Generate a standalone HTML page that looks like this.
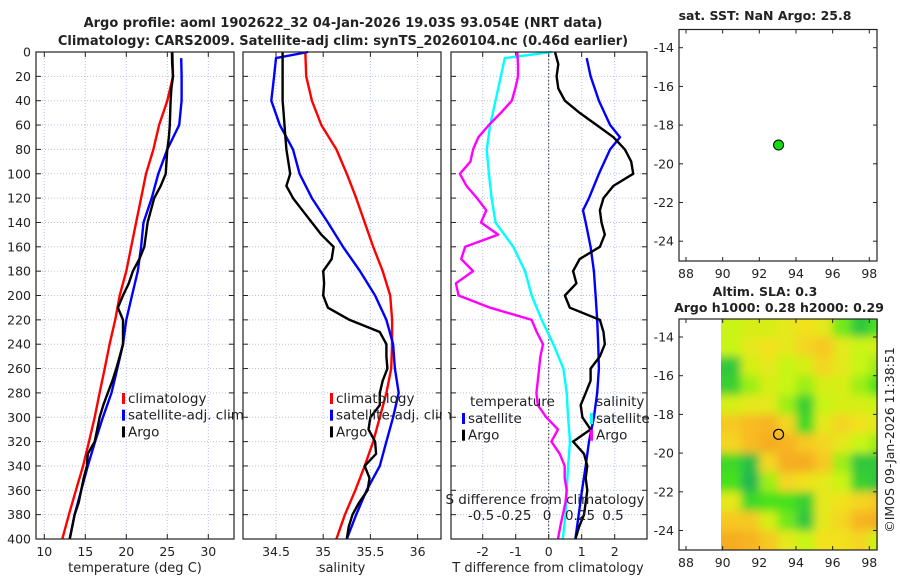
<!DOCTYPE html>
<html><head><meta charset="utf-8"><style>
html,body{margin:0;padding:0;background:#fff;}
svg{display:block;font-family:"DejaVu Sans","Liberation Sans",sans-serif;}
</style></head><body>
<svg id="fig" width="900" height="580" viewBox="0 0 900 580" xmlns="http://www.w3.org/2000/svg">
<defs>
<filter id="blur" x="-5%" y="-5%" width="110%" height="110%"><feGaussianBlur stdDeviation="4.5"/></filter>
<clipPath id="mapclip"><rect x="721" y="319" width="157" height="231"/></clipPath>
</defs>
<g id="root"></g>
</svg>
<script>
// ---------- data ----------
const depthStd = [0,20,40,60,80,100,120,140,160,180,200,220,240,260,280,300,320,340,360,380,400];
const tempClim = [25.64,25.7,25.0,24.0,23.3,22.4,21.8,21.2,20.6,20.0,19.2,18.65,17.96,17.36,16.75,16.15,15.45,14.73,13.85,13.0,12.2];
const depthSat = [5,20,40,60,80,100,120,140,160,180,200,220,240,260,280,300,320,340,360,380,400];
const tempSat = [26.7,26.75,26.75,26.45,25.0,23.9,23.1,22.1,21.8,21.4,20.7,20.0,19.6,18.9,18.2,17.15,16.2,15.3,14.5,13.7,13.1];
const depthArgo = [0,10,20,30,40,50,60,70,80,90,100,110,120,130,140,150,160,170,180,190,200,210,220,230,240,250,260,270,280,290,300,310,320,330,340,350,360,370,380,390,400];
const tempArgo = [25.56,25.6,25.7,25.5,25.4,25.35,25.3,25.2,25.0,24.9,24.8,24.2,23.4,23.0,22.6,22.4,22.2,21.6,20.8,20.3,19.6,18.98,19.6,19.6,19.6,19.2,18.78,18.3,17.75,17.2,16.75,16.45,16.15,15.3,15.2,14.8,14.5,14.2,13.7,13.4,13.1];
const salClim = [34.81,34.82,34.88,34.98,35.14,35.25,35.35,35.44,35.53,35.63,35.71,35.73,35.73,35.72,35.67,35.60,35.53,35.44,35.34,35.23,35.14];
const depthSalSat = [0,5,20,40,60,80,100,120,140,160,180,200,220,240,260,280,300,320,340,360,380,400];
const salSat = [34.84,34.5,34.48,34.45,34.54,34.68,34.75,34.88,35.05,35.21,35.39,35.55,35.67,35.74,35.76,35.80,35.74,35.67,35.60,35.46,35.35,35.25];
const salArgo = [34.57,34.57,34.57,34.57,34.57,34.58,34.59,34.6,34.61,34.63,34.65,34.61,34.68,34.78,34.88,34.98,35.11,35.09,35.0,35.01,35.0,35.05,35.28,35.6,35.67,35.67,35.68,35.63,35.6,35.6,35.5,35.48,35.55,35.56,35.44,35.49,35.47,35.38,35.31,35.27,35.25];
const sDiffSat = [0.035,-0.32,-0.39,-0.43,-0.457,-0.44,-0.42,-0.39,-0.255,-0.167,-0.116,-0.04,0.048,0.124,0.149,0.16,0.174,0.16,0.149,0.14,0.12];
const depthSDS = [0,5,40,60,80,100,120,140,160,180,200,220,240,260,280,300,320,340,360,380,400];
const sDiffArgo = [-0.225,-0.22,-0.22,-0.24,-0.267,-0.35,-0.44,-0.52,-0.56,-0.58,-0.66,-0.61,-0.53,-0.46,-0.50,-0.37,-0.62,-0.65,-0.56,-0.69,-0.67,-0.43,-0.116,-0.078,-0.03,-0.05,-0.06,-0.07,-0.08,-0.07,-0.005,0.083,0.033,0.096,0.134,0.134,0.149,0.14,0.12,0.1,0.083];
const tDiffSat = [1.15,1.27,1.52,1.86,2.16,1.86,1.52,1.22,1.04,1.12,1.27,1.37,1.42,1.47,1.5,1.52,1.47,1.37,1.22,1.12,1.01,0.91,0.81];
const depthTDS = [5,20,40,60,70,80,100,120,130,140,160,180,200,220,240,260,280,300,320,340,360,380,400];
const tDiffArgo = [0.19,0.29,0.24,0.29,0.49,0.94,1.45,1.96,2.31,2.5,2.56,1.96,1.66,1.55,1.6,1.7,1.55,0.94,0.74,0.84,0.49,0.64,1.55,1.66,1.7,1.55,1.27,1.27,1.12,0.97,1.02,1.27,0.74,1.07,1.17,1.12,1.17,1.12,1.07,0.92,0.81];
// map
const argoLon = 93.05, argoLat = -19.03;
const slaLons = [90.5,91.5,92.5,93.5,94.5,95.5,96.5,97.5,98.5];
const slaLats = [-13.5,-14.5,-15.5,-16.5,-17.5,-18.5,-19.5,-20.5,-21.5,-22.5,-23.5,-24.5];
const slaGrid = [
[0.55,0.5,0.5,0.45,0.4,0.45,0.65,0.85,0.7],
[0.55,0.45,0.4,0.45,0.35,0.3,0.45,0.55,0.5],
[0.85,0.5,0.45,0.55,0.5,0.35,0.45,0.55,0.6],
[0.8,0.6,0.5,0.55,0.6,0.5,0.5,0.6,0.7],
[0.5,0.45,0.45,0.6,0.8,0.55,0.5,0.5,0.55],
[0.3,0.25,0.2,0.35,0.75,0.45,0.35,0.4,0.45],
[0.35,0.25,0.15,0.2,0.3,0.35,0.45,0.55,0.6],
[0.75,0.9,0.35,0.15,0.15,0.3,0.6,0.85,0.85],
[0.7,0.95,0.6,0.35,0.4,0.45,0.55,0.8,0.85],
[0.45,0.75,0.7,0.7,0.8,0.45,0.4,0.35,0.3],
[0.3,0.3,0.5,0.65,0.85,0.45,0.35,0.2,0.15],
[0.15,0.2,0.3,0.45,0.55,0.4,0.4,0.35,0.55]];
const depthTicks = [0,20,40,60,80,100,120,140,160,180,200,220,240,260,280,300,320,340,360,380,400];
const tempTicks = [10,15,20,25,30];
const salTicks = [34.5,35,35.5,36];
const tdTicks = [-2,-1,0,1,2];
const sdTicks = [-0.5,-0.25,0,0.25,0.5];
const lonTicks = [88,90,92,94,96,98];
const latTicks = [-14,-16,-18,-20,-22,-24];

// ---------- helpers ----------
const NS="http://www.w3.org/2000/svg";
const root=document.getElementById('root');
function mk(tag,attrs,parent){const e=document.createElementNS(NS,tag);for(const k in attrs)e.setAttribute(k,attrs[k]);(parent||root).appendChild(e);return e;}
function txt(x,y,s,size,anchor,weight,parent){const t=mk('text',{x:x,y:y,'font-size':size,'text-anchor':anchor||'middle','font-weight':weight||'normal',fill:'#222'},parent);t.textContent=s;return t;}
const yD = d => 52 + d*1.2175;
const xT = t => 44.3 + (t-10)*8.2;
const xS = s => 276 + (s-34.5)*94.4;
const xTD = t => 548.7 + t*33;
const xSD = s => 547 + s*132;
const xLon = l => 686 + (l-88)*18.33;
const yLat1 = l => 47.7 + (-14-l)*19.35;
const yLat2 = l => 337 + (-14-l)*19.35;

function line(xs,ys,fx,color,w,name){
  let p='';for(let i=0;i<xs.length;i++){p+=(i?'L':'M')+fx(xs[i]).toFixed(1)+','+yD(ys[i]).toFixed(1);}
  const e=mk('path',{d:p,fill:'none',stroke:color,'stroke-width':w,'stroke-linejoin':'round'});
  
  
}
function panel(x0,x1,vticks,fx,name){
  const g=mk('g',{});
  
  
  for(const d of depthTicks){ if(d>0&&d<400) mk('line',{x1:x0,x2:x1,y1:yD(d),y2:yD(d),stroke:'#b8c0ee','stroke-width':1,'stroke-dasharray':'1,2'},g);
    mk('line',{x1:x0,x2:x0+5,y1:yD(d),y2:yD(d),stroke:'#222'},g);mk('line',{x1:x1-5,x2:x1,y1:yD(d),y2:yD(d),stroke:'#222'},g);}
  for(const v of vticks){const x=fx(v);mk('line',{x1:x,x2:x,y1:52,y2:539,stroke:'#b8c0ee','stroke-width':1,'stroke-dasharray':'1,2'},g);
    mk('line',{x1:x,x2:x,y1:539,y2:534,stroke:'#222'},g);mk('line',{x1:x,x2:x,y1:52,y2:57,stroke:'#222'},g);}
  return g;
}
function frame(x0,x1,name){const r=mk('rect',{x:x0,y:52,width:x1-x0,height:487,fill:'none',stroke:'#222','stroke-width':1.2});
  
  }

// titles
let t=txt(343,27,'Argo profile: aoml 1902622_32 04-Jan-2026 19.03S 93.054E (NRT data)',13,'middle','bold');


t=txt(343,45,'Climatology: CARS2009. Satellite-adj clim: synTS_20260104.nc (0.46d earlier)',13,'middle','bold');



// panel 1 temperature
panel(36,234,tempTicks,xT,'temperature-panel');
for(const d of depthTicks){t=txt(31,yD(d)+4.5,String(d),12.5,'end');}
for(const v of tempTicks){t=txt(xT(v),556,String(v),12.5);}
t=txt(135,572,'temperature (deg C)',13);
line(tempClim,depthStd,xT,'#ff0000',2.4,'temp-climatology-line');
line(tempSat,depthSat,xT,'#0000ff',2.4,'temp-satellite-line');
line(tempArgo,depthArgo,xT,'#000000',2.4,'temp-argo-line');
frame(36,234,'temperature-frame');

// panel 2 salinity
panel(243,441,salTicks,xS,'salinity-panel');
for(const v of salTicks){t=txt(xS(v),556,String(v),12.5);}
t=txt(342,572,'salinity',13);
line(salClim,depthStd,xS,'#ff0000',2.4,'sal-climatology-line');
line(salSat,depthSalSat,xS,'#0000ff',2.4,'sal-satellite-line');
line(salArgo,depthArgo,xS,'#000000',2.4,'sal-argo-line');
frame(243,441,'salinity-frame');

// legends
function legend(x,y,items,name){const g=mk('g',{});
  items.forEach((it,i)=>{const yy=y+i*16.7;if(it[0])mk('rect',{x:x,y:yy-9,width:3,height:11,fill:it[0]},g);txt(x+(it[0]?6:0),yy+1,it[1],13.5,'start','normal',g);});}
legend(122,402,[['#ff0000','climatology'],['#0000ff','satellite-adj. clim'],['#000000','Argo']],'temp-legend');
legend(330,402,[['#ff0000','climatology'],['#0000ff','satellite-adj. clim'],['#000000','Argo']],'sal-legend');

// panel 3 differences
mk('rect',{x:442,y:380,width:6,height:60,fill:'#fff'});
panel(451,647,tdTicks,xTD,'difference-panel');
mk('line',{x1:xTD(0),x2:xTD(0),y1:52,y2:539,stroke:'#333','stroke-width':1,'stroke-dasharray':'1.5,2'});
line(sDiffSat,depthSDS,xSD,'#00ffff',2.4,'sal-diff-satellite-line');
line(sDiffArgo,depthArgo,xSD,'#ff00ff',2.4,'sal-diff-argo-line');
line(tDiffSat,depthTDS,xTD,'#0000ff',2.4,'temp-diff-satellite-line');
line(tDiffArgo,depthArgo,xTD,'#000000',2.4,'temp-diff-argo-line');
legend(470,405,[[null,'temperature']],'temp-diff-legend-title');
legend(462,422,[['#0000ff','satellite'],['#000000','Argo']],'temp-diff-legend');
legend(596,405,[[null,'salinity']],'sal-diff-legend-title');
legend(590,422,[['#00ffff','satellite'],['#ff00ff','Argo']],'sal-diff-legend');
t=txt(545,504,'S difference from climatology',13.5);
for(const v of sdTicks){t=txt(xSD(v),520,String(v),13.5);}
for(const v of tdTicks){t=txt(xTD(v),556,String(v),12.5);}
t=txt(548,572,'T difference from climatology',13);
frame(451,647,'difference-frame');

// map 1
function mapAxes(yTop,yBot,yLat,name){const g=mk('g',{});
  for(const l of lonTicks){const x=xLon(l);mk('line',{x1:x,x2:x,y1:yBot,y2:yBot-4,stroke:'#222'},g);mk('line',{x1:x,x2:x,y1:yTop,y2:yTop+4,stroke:'#222'},g);txt(x,yBot+17,String(l),12.5,'middle','normal',g);}
  for(const l of latTicks){const y=yLat(l);mk('line',{x1:679,x2:683,y1:y,y2:y,stroke:'#222'},g);mk('line',{x1:877,x2:873,y1:y,y2:y,stroke:'#222'},g);txt(674,y+4.5,String(l),12.5,'end','normal',g);}
  mk('rect',{x:679,y:yTop,width:198,height:yBot-yTop,fill:'none',stroke:'#222','stroke-width':1.2},g);}
mapAxes(29.5,261,yLat1,'sst-map-axes');
t=txt(765,20,'sat. SST: NaN Argo: 25.8',12.5,'middle','bold');
let c=mk('circle',{cx:xLon(argoLon),cy:yLat1(argoLat),r:5,fill:'#11dd11',stroke:'#000','stroke-width':1});



// map 2 heatmap
const stops=[[0,[240,150,30]],[0.25,[248,188,35]],[0.4,[242,225,30]],[0.55,[200,245,20]],[0.7,[70,225,30]],[1,[25,175,90]]];
function col(v){for(let i=1;i<stops.length;i++){if(v<=stops[i][0]){const a=stops[i-1],b=stops[i],f=(v-a[0])/(b[0]-a[0]);const r=a[1].map((c,k)=>Math.round(c+(b[1][k]-c)*f));return 'rgb('+r.join(',')+')';}}return 'rgb(25,175,90)';}
const hg=mk('g',{'clip-path':'url(#mapclip)'});


const hb=mk('g',{filter:'url(#blur)'},hg);
slaLats.forEach((la,i)=>slaLons.forEach((lo,j)=>{
  let x0=xLon(lo-0.5),x1=xLon(lo+0.5),y0=yLat2(la+0.5),y1=yLat2(la-0.5);
  if(j===0)x0-=25; if(j===slaLons.length-1)x1+=25; if(i===0)y0-=25; if(i===slaLats.length-1)y1+=25;
  const r=mk('rect',{x:x0,y:y0,width:x1-x0+0.5,height:y1-y0+0.5,fill:col(slaGrid[i][j])},hb);
  
  
}));
mapAxes(319,550,yLat2,'sla-map-axes');
t=txt(765,296,'Altim. SLA: 0.3',12.5,'middle','bold');
t=txt(779,312,'Argo h1000: 0.28 h2000: 0.29',12.5,'middle','bold');
c=mk('circle',{cx:xLon(argoLon),cy:yLat2(argoLat),r:5,fill:'none',stroke:'#000','stroke-width':1.2});


t=txt(0,0,'©IMOS 09-Jan-2026 11:38:51',12.5,'middle');
t.setAttribute('transform','translate(894,440) rotate(-90)');


</script>
</body></html>
